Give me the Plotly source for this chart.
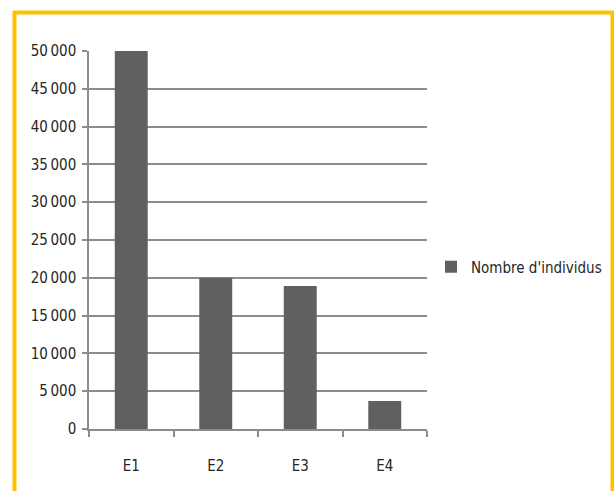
import plotly.graph_objects as go

# Nombre d'individus par catégorie
categories = ["E1", "E2", "E3", "E4"]
individus = [50000, 20000, 18900, 3700]

y_tickvals = [0, 5000, 10000, 15000, 20000, 25000, 30000, 35000, 40000, 45000, 50000]
y_ticktext = ["0", "5\u2009000", "10\u2009000", "15\u2009000", "20\u2009000", "25\u2009000",
              "30\u2009000", "35\u2009000", "40\u2009000", "45\u2009000", "50\u2009000"]

font_family = "Liberation Sans Narrow, DejaVu Sans Condensed, sans-serif"
grey = "#8c8c8c"

fig = go.Figure(
    go.Bar(
        x=categories,
        y=individus,
        name="Nombre d'individus",
        marker=dict(color="#606060", line=dict(width=0)),
        showlegend=True,
    )
)

L, R, T, B = 89, 187, 51, 62
W, H = 614, 491
pw, ph = W - L - R, H - T - B

def px_x(x):
    return (x - L) / pw

def px_y(y):
    return (H - B - y) / ph

fig.update_layout(
    width=W,
    height=H,
    margin=dict(l=L, r=R, t=T, b=B, autoexpand=False),
    paper_bgcolor="white",
    plot_bgcolor="white",
    bargap=0.61,
    font=dict(family=font_family, size=15, color="#262626"),
    legend=dict(
        x=px_x(431), y=px_y(267), xanchor="left", yanchor="middle",
        font=dict(family=font_family, size=15, color="#262626"),
        bgcolor="rgba(0,0,0,0)",
        itemwidth=30,
    ),
    shapes=[
        dict(
            type="rect", xref="paper", yref="paper",
            x0=px_x(14.5), x1=px_x(612.5), y0=px_y(520), y1=px_y(12.5),
            line=dict(color="#FFC000", width=4), fillcolor="rgba(0,0,0,0)",
            layer="below",
        )
    ],
)

fig.update_xaxes(
    showgrid=False,
    showline=True, linecolor=grey, linewidth=1.5,
    ticks="outside", tickson="boundaries", ticklen=6, tickcolor=grey, tickwidth=1.5,
    ticklabelstandoff=22,
)
fig.update_yaxes(
    range=[0, 50000],
    tickvals=y_tickvals, ticktext=y_ticktext,
    showgrid=True, gridcolor=grey, gridwidth=1.5,
    showline=True, linecolor=grey, linewidth=1.5,
    ticks="outside", ticklen=5, tickcolor=grey, tickwidth=1.5,
    ticklabelstandoff=3,
    zeroline=False,
)

fig.write_html("out.html")
